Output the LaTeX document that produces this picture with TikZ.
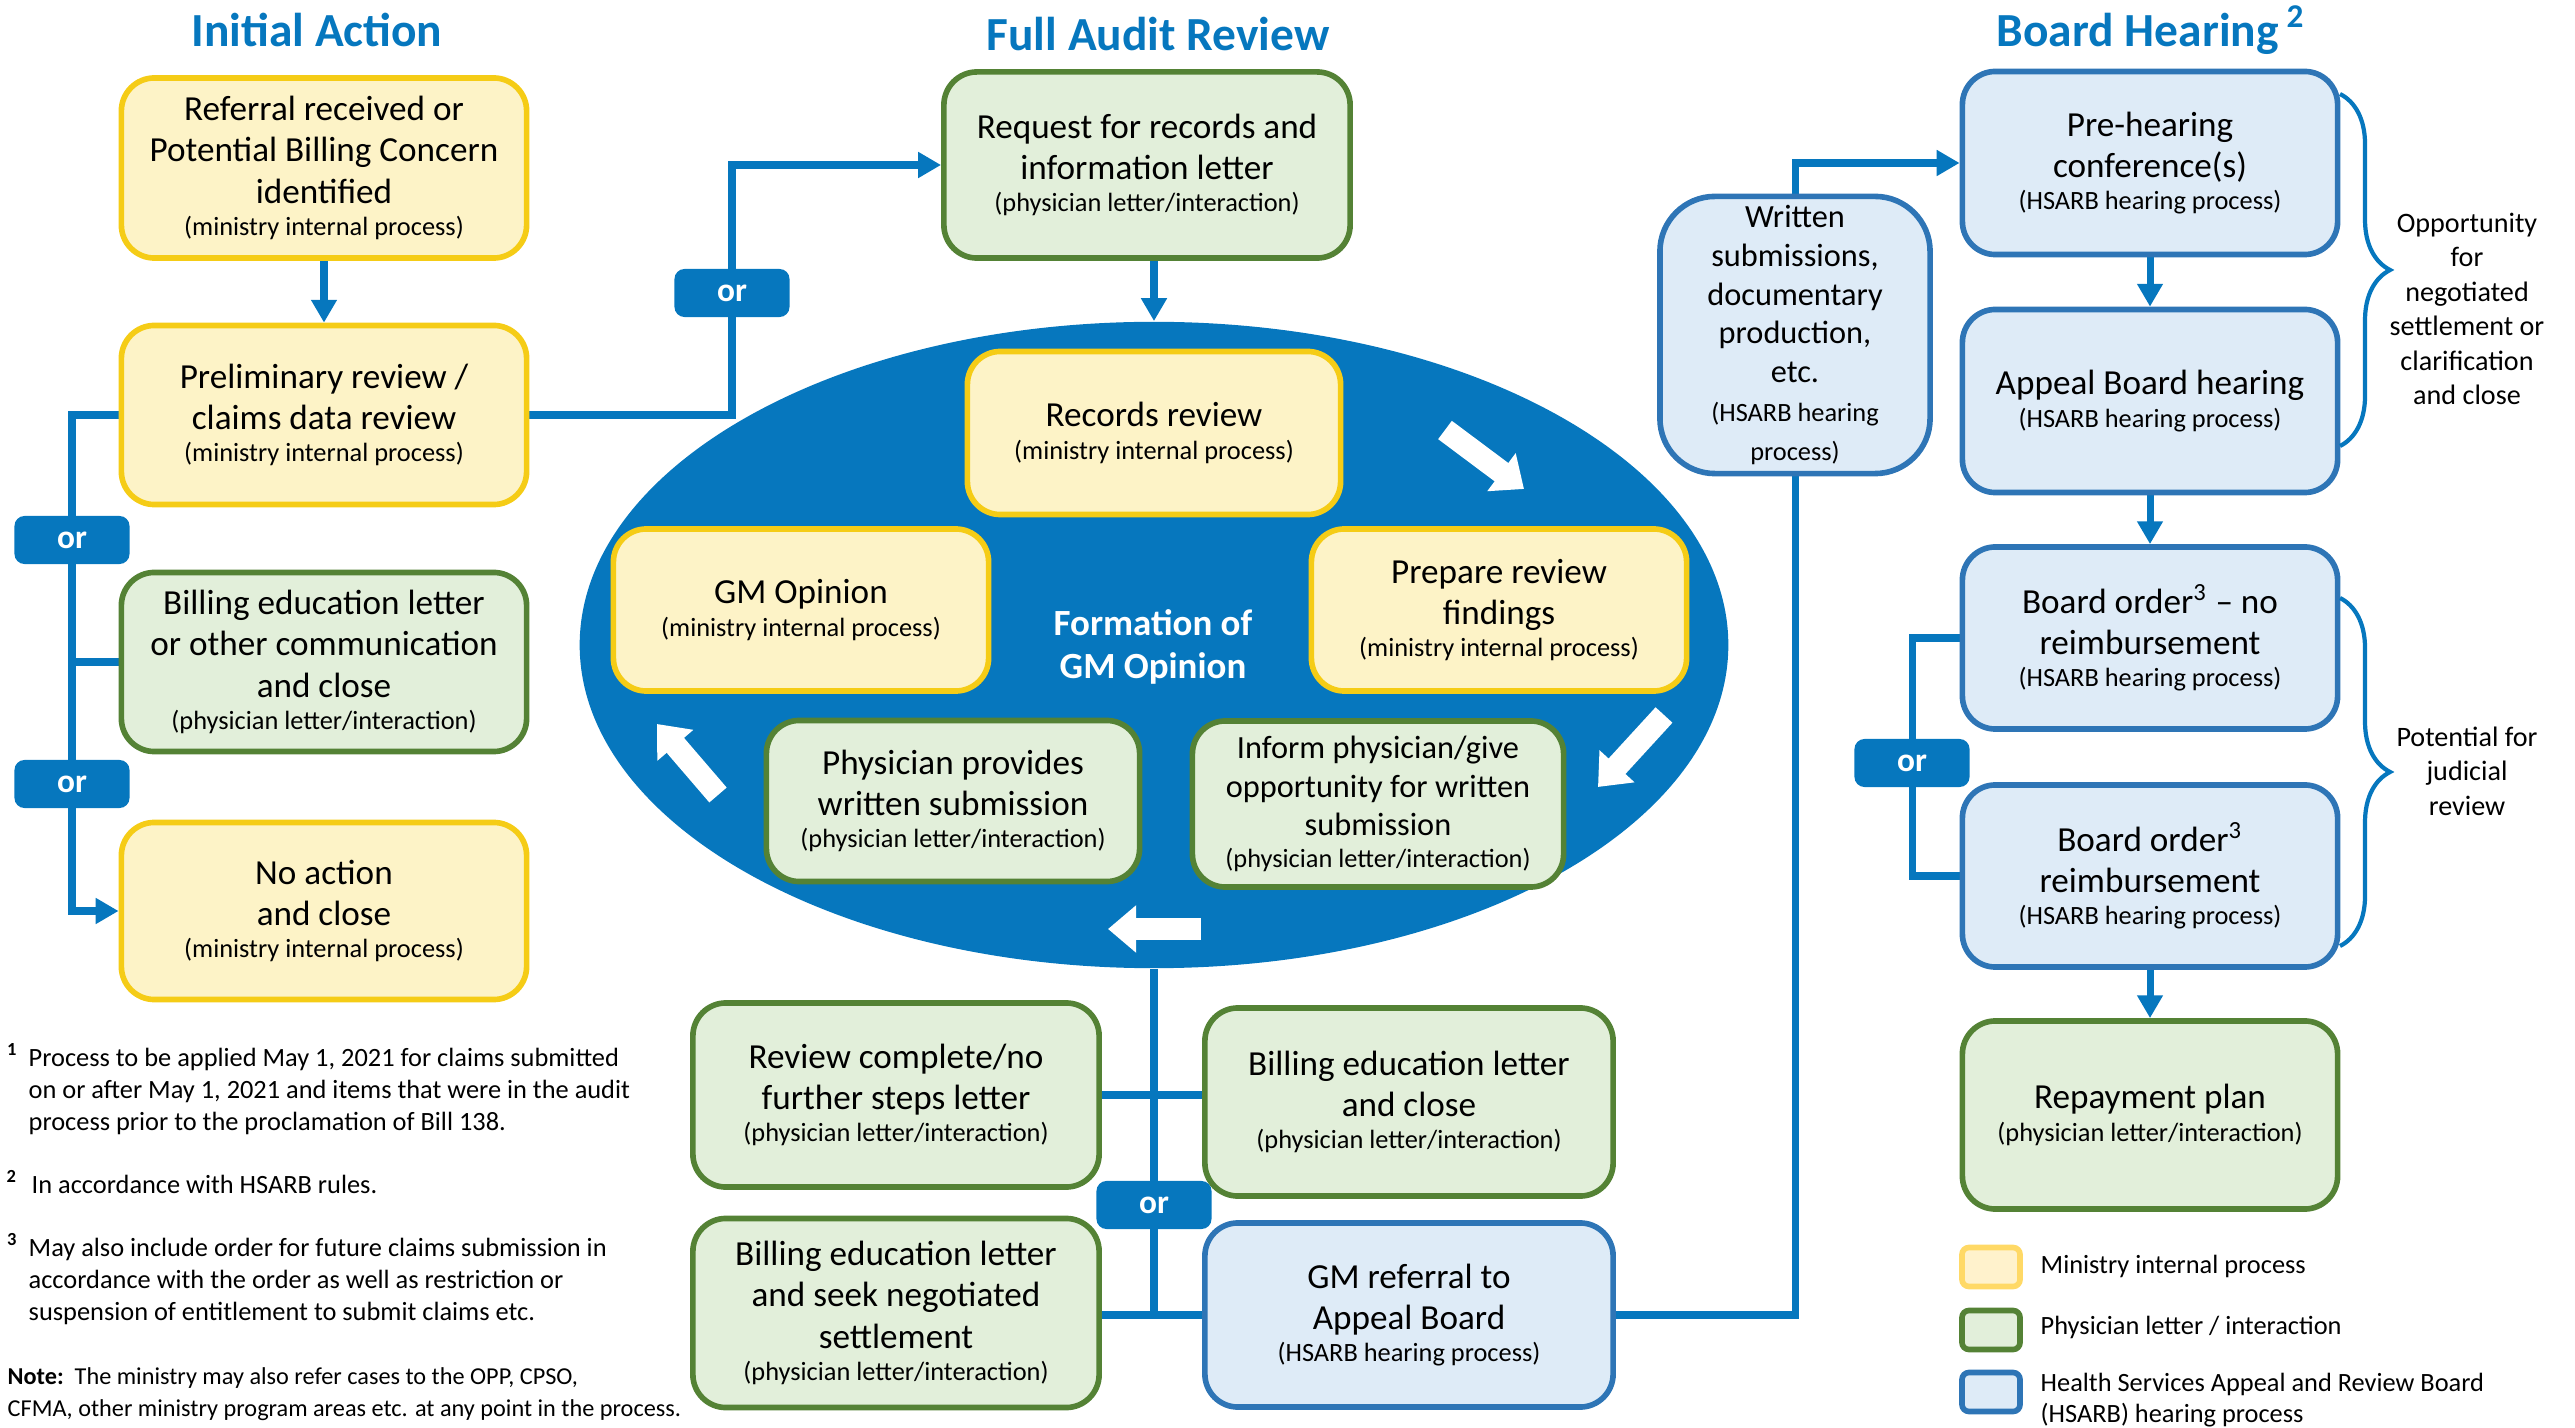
\documentclass[tikz,border=0pt]{standalone}
\usepackage{fontspec}
\setmainfont{Carlito}
\usetikzlibrary{arrows.meta,shapes.geometric,backgrounds,decorations.pathreplacing}
\definecolor{audblue}{HTML}{0677BE}
\definecolor{hsarbline}{HTML}{2E75B6}
\definecolor{hsarbfill}{HTML}{DEEBF7}
\definecolor{minline}{HTML}{F5CC16}
\definecolor{minfill}{HTML}{FDF3C7}
\definecolor{keyline}{HTML}{FFD966}
\definecolor{keyfill}{HTML}{FFF2CC}
\definecolor{phyline}{HTML}{548235}
\definecolor{phyfill}{HTML}{E2EFDA}
\newcommand{\procnote}[1]{{\fontsize{7.5}{9}\selectfont #1}}
\tikzset{
  >={Triangle[width=7pt,length=6.5pt]},
  x=0.01cm, y=-0.01cm,
}
\tikzstyle{procbox}=[rounded corners=0.33cm, line width=1.6pt, align=center, inner sep=2pt, font=\fontsize{10}{11.7}\selectfont]
\tikzstyle{ministry}=[procbox, draw=minline, fill=minfill]
\tikzstyle{physician}=[procbox, draw=phyline, fill=phyfill]
\tikzstyle{hsarb}=[procbox, draw=hsarbline, fill=hsarbfill]
\tikzstyle{conn}=[audblue, line width=2pt]
\tikzstyle{orbox}=[fill=audblue, rounded corners=0.1cm, text=white, font=\bfseries\fontsize{9.5}{11}\selectfont, minimum width=1.15cm, minimum height=0.48cm, inner sep=0pt]
\tikzstyle{heading}=[text=audblue, font=\bfseries\fontsize{13.5}{16}\selectfont]
\tikzstyle{cyclearrow}=[white, line width=6.5pt, -{Triangle[width=13pt,length=8pt]}]
\tikzstyle{sidebrace}=[audblue, line width=1.2pt, decorate, decoration={brace,amplitude=0.5cm}]
\tikzstyle{bracenote}=[align=center, font=\fontsize{8}{9.8}\selectfont]
\tikzstyle{fnote}=[anchor=west, align=left, inner sep=0pt, font=\fontsize{7.5}{9.1}\selectfont]
\tikzstyle{legendkey}=[rounded corners=0.07cm, line width=1.6pt, minimum width=0.58cm, minimum height=0.39cm]
\tikzstyle{legendtext}=[anchor=west, align=left, inner sep=0pt, font=\fontsize{7.5}{9}\selectfont]

\begin{document}
\begin{tikzpicture}
    \useasboundingbox (0,0) rectangle (2575,1428);
    \node[heading] (titleinit) at (317,30) {Initial Action};
    \node[heading] (titleaudit) at (1158,34) {Full Audit Review};
    \node[heading] (titleboard) at (2151,30) {Board Hearing\,\textsuperscript{2}};

    \node[ministry, minimum width=4.05cm, minimum height=1.8cm] (referral) at (324,168)
    {Referral received or\\Potential Billing Concern\\identified\\[-2.5pt]\procnote{(ministry internal process)}};
    \node[ministry, minimum width=4.05cm, minimum height=1.79cm] (prelim) at (324,415)
    {Preliminary review /\\claims data review\\[-2.5pt]\procnote{(ministry internal process)}};
    \node[physician, minimum width=4.05cm, minimum height=1.79cm] (billedL) at (324,662)
    {Billing education letter\\or other communication\\and close\\[-2.5pt]\procnote{(physician letter/interaction)}};
    \node[ministry, minimum width=4.05cm, minimum height=1.77cm] (noaction) at (324,911)
    {No action\\and close\\[-2.5pt]\procnote{(ministry internal process)}};

    \node[physician, minimum width=4.06cm, minimum height=1.86cm] (request) at (1147,165)
    {Request for records and\\information letter\\[-2.5pt]\procnote{(physician letter/interaction)}};
    \node[ellipse, fill=audblue, minimum width=11.48cm, minimum height=6.46cm, inner sep=0pt] (cycle) at (1154,645) {};
    \node[ministry, minimum width=3.73cm, minimum height=1.63cm] (records) at (1154,433)
    {Records review\\[-2.5pt]\procnote{(ministry internal process)}};
    \node[ministry, minimum width=3.75cm, minimum height=1.62cm] (gmopinion) at (801,610)
    {GM Opinion\\[-2.5pt]\procnote{(ministry internal process)}};
    \node[ministry, minimum width=3.75cm, minimum height=1.62cm] (findings) at (1499,610)
    {Prepare review\\findings\\[-2.5pt]\procnote{(ministry internal process)}};
    \node[physician, minimum width=3.73cm, minimum height=1.61cm] (provides) at (953,801)
    {Physician provides\\written submission\\[-2.5pt]\procnote{(physician letter/interaction)}};
    \node[physician, minimum width=3.71cm, minimum height=1.66cm, font=\fontsize{9.2}{11}\selectfont] (inform) at (1378,804)
    {Inform physician/give\\opportunity for written\\submission\\[-2pt]\procnote{(physician letter/interaction)}};
    \node[text=white, align=center, font=\bfseries\fontsize{10.5}{12.3}\selectfont] (formation) at (1153,647)
    {Formation of\\GM Opinion};
    \draw[cyclearrow] (1445,430) -- (1524,489);
    \draw[cyclearrow] (1664,715) -- (1598,787);
    \draw[cyclearrow] (1201,929) -- (1108,929);
    \draw[cyclearrow] (718,795) -- (657,724);

    \node[physician, minimum width=4.06cm, minimum height=1.84cm] (reviewc) at (896,1095)
    {Review complete/no\\further steps letter\\[-2.5pt]\procnote{(physician letter/interaction)}};
    \node[physician, minimum width=4.08cm, minimum height=1.88cm] (billedC) at (1409,1102)
    {Billing education letter\\and close\\[-2.5pt]\procnote{(physician letter/interaction)}};
    \node[physician, minimum width=4.06cm, minimum height=1.89cm] (billseek) at (896,1313)
    {Billing education letter\\and seek negotiated\\settlement\\[-2.5pt]\procnote{(physician letter/interaction)}};
    \node[hsarb, minimum width=4.08cm, minimum height=1.84cm] (gmref) at (1409,1315)
    {GM referral to\\Appeal Board\\[-2.5pt]\procnote{(HSARB hearing process)}};

    \node[hsarb, rounded corners=0.55cm, minimum width=2.7cm, minimum height=2.77cm, font=\fontsize{9.2}{11}\selectfont] (written) at (1795,335)
    {Written\\submissions,\\documentary\\production,\\etc.\\\procnote{(HSARB hearing}\\\procnote{process)}};
    \node[hsarb, minimum width=3.75cm, minimum height=1.83cm] (prehear) at (2150,163)
    {Pre-hearing\\conference(s)\\[-2.5pt]\procnote{(HSARB hearing process)}};
    \node[hsarb, minimum width=3.75cm, minimum height=1.83cm] (appeal) at (2150,401)
    {Appeal Board hearing\\[-2.5pt]\procnote{(HSARB hearing process)}};
    \node[hsarb, minimum width=3.75cm, minimum height=1.82cm] (boardno) at (2150,638)
    {Board order\textsuperscript{3} -- no\\reimbursement\\[-2.5pt]\procnote{(HSARB hearing process)}};
    \node[hsarb, minimum width=3.75cm, minimum height=1.82cm] (boardre) at (2150,876)
    {Board order\textsuperscript{3}\\reimbursement\\[-2.5pt]\procnote{(HSARB hearing process)}};
    \node[physician, minimum width=3.75cm, minimum height=1.88cm] (repay) at (2150,1115)
    {Repayment plan\\[-2.5pt]\procnote{(physician letter/interaction)}};

    \node[orbox] (orL1) at (72,540) {or};
    \node[orbox] (orL2) at (72,784) {or};
    \node[orbox] (orT) at (732,293) {or};
    \node[orbox] (orB) at (1154,1205) {or};
    \node[orbox] (orR) at (1912,763) {or};

    \begin{scope}[on background layer]
    \draw[conn,->] (referral) -- (prelim);
    \draw[conn,->] (prelim.west) -| (orL2.center) |- (noaction.west);
    \draw[conn] (orL1.center |- billedL.west) -- (billedL.west);
    \draw[conn,->] (prelim.east) -| (orT.center) |- (request.west);
    \draw[conn,->] (request.south -| cycle.north) -- (cycle.north);
    \draw[conn] (cycle.south) -- (cycle.south |- gmref.west);
    \draw[conn] (reviewc.east) -- (reviewc.east -| billedC.west);
    \draw[conn] (billseek.east |- gmref.west) -- (gmref.west);
    \draw[conn,->] (gmref.east) -| (written.south) |- (prehear.west);
    \draw[conn,->] (prehear) -- (appeal);
    \draw[conn,->] (appeal) -- (boardno);
    \draw[conn] (boardno.west) -| (orR.center) |- (boardre.west);
    \draw[conn,->] (boardre) -- (repay);
    \end{scope}

    \draw[sidebrace] (2340,94) -- (2340,446);
    \draw[sidebrace] (2340,598) -- (2340,946);
    \node[bracenote] (settlenote) at (2467,309)
    {Opportunity\\for\\negotiated\\settlement or\\clarification\\and close};
    \node[bracenote] (judicialnote) at (2467,771)
    {Potential for\\judicial\\review};

    \node[legendkey, draw=keyline, fill=keyfill] (keymin) at (1991,1267) {};
    \node[legendkey, draw=phyline, fill=phyfill] (keyphy) at (1991,1330) {};
    \node[legendkey, draw=hsarbline, fill=hsarbfill] (keyhsarb) at (1991,1392) {};
    \node[legendtext] (txtmin) at (2040,1266) {Ministry internal process};
    \node[legendtext] (txtphy) at (2040,1327) {Physician letter / interaction};
    \node[legendtext] (txthsarb) at (2040,1400) {Health Services Appeal and Review Board\\(HSARB) hearing process};

    \node[fnote] (fn1) at (28,1089)
    {\llap{\textsuperscript{\bfseries 1}\hspace{3pt}}Process to be applied May 1, 2021 for claims submitted\\on or after May 1, 2021 and items that were in the audit\\process prior to the proclamation of Bill 138.};
    \node[fnote] (fn2) at (31,1182)
    {\llap{\textsuperscript{\bfseries 2}\hspace{4pt}}In accordance with HSARB rules.};
    \node[fnote] (fn3) at (28,1279)
    {\llap{\textsuperscript{\bfseries 3}\hspace{3pt}}May also include order for future claims submission in\\accordance with the order as well as restriction or\\suspension of entitlement to submit claims etc.};
    \node[fnote, font=\fontsize{6.9}{9.1}\selectfont] (note) at (7,1394)
    {\textbf{Note:}\ \ The ministry may also refer cases to the OPP, CPSO,\\CFMA, other ministry program areas etc. at any point in the process.};
\end{tikzpicture}
\end{document}
